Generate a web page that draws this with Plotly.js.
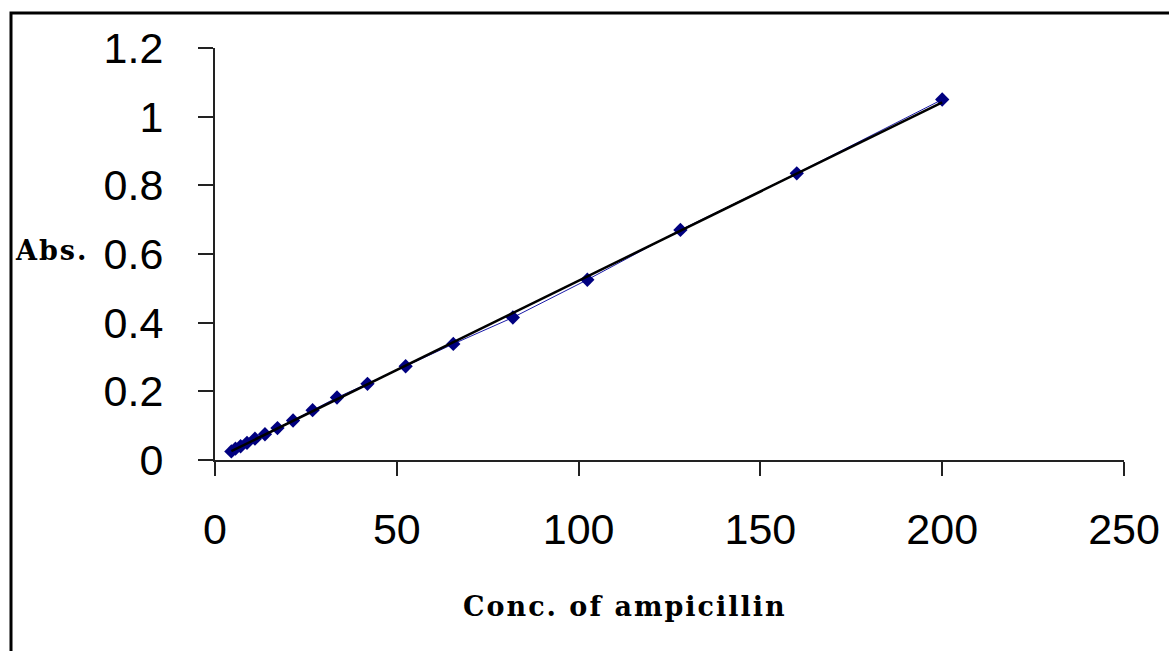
<!DOCTYPE html>
<html>
<head>
<meta charset="utf-8">
<script src="https://cdn.plot.ly/plotly-3.0.1.min.js"></script>
<style>
  html, body { margin: 0; padding: 0; background: #fff; }
  #chart { width: 1169px; height: 651px; }
  /* axis captions are set with slightly open tracking */
  #chart .annotation-text { letter-spacing: 2px; }
</style>
</head>
<body>
<div id="chart"></div>
<script>
// Ampicillin calibration: concentration vs. absorbance
const conc = [200, 160, 128, 102.4, 81.92, 65.54, 52.43, 41.94, 33.55, 26.84,
              21.47, 17.18, 13.74, 10.99, 8.80, 7.04, 5.63, 4.50];
const absorbance = [1.05, 0.835, 0.67, 0.525, 0.415, 0.338, 0.273, 0.222, 0.182, 0.145,
                    0.115, 0.093, 0.075, 0.062, 0.050, 0.040, 0.033, 0.025];
const xTicks = [0, 50, 100, 150, 200, 250];
const yTicks = [0, 0.2, 0.4, 0.6, 0.8, 1, 1.2];
const yTickText = ['0', '0.2', '0.4', '0.6', '0.8', '1', '1.2'];

// Least-squares linear trendline over the measured range
function linearFit(xs, ys) {
  const n = xs.length;
  let sx = 0, sy = 0, sxx = 0, sxy = 0;
  for (let i = 0; i < n; i++) {
    sx += xs[i]; sy += ys[i]; sxx += xs[i] * xs[i]; sxy += xs[i] * ys[i];
  }
  const slope = (n * sxy - sx * sy) / (n * sxx - sx * sx);
  const intercept = (sy - slope * sx) / n;
  return { slope, intercept };
}
const fit = linearFit(conc, absorbance);
const trendX = [Math.min(...conc), Math.max(...conc)];
const trendY = trendX.map(x => fit.slope * x + fit.intercept);

const W = 1169, H = 651;
const margin = { l: 215, r: 45, t: 48, b: 191 };
const plotW = W - margin.l - margin.r;
const plotH = H - margin.t - margin.b;
// convert page pixels to paper coordinates (for the outer frame and titles)
const px = v => (v - margin.l) / plotW;
const py = v => 1 - (v - margin.t) / plotH;

const tickFont = { size: 43, family: '"Liberation Sans", Arial, sans-serif', color: '#000' };
const titleFont = { family: '"DejaVu Serif", "Liberation Serif", serif', size: 27, weight: 'bold', color: '#000' };

const traces = [
  {
    x: conc, y: absorbance,
    type: 'scatter', mode: 'lines+markers',
    line: { color: '#1a1aa8', width: 1 },
    marker: { symbol: 'diamond', size: 11, color: '#000080' },
    hoverinfo: 'x+y', showlegend: false
  },
  {
    x: trendX, y: trendY,
    type: 'scatter', mode: 'lines',
    line: { color: '#000000', width: 2.5 },
    hoverinfo: 'skip', showlegend: false
  }
];

const layout = {
  width: W, height: H,
  margin: margin,
  paper_bgcolor: '#ffffff',
  plot_bgcolor: '#ffffff',
  font: { family: '"Liberation Sans", Arial, sans-serif', color: '#000' },
  xaxis: {
    range: [0, 250],
    tickvals: xTicks,
    ticktext: xTicks.map(String),
    ticks: 'outside', ticklen: 14, tickwidth: 2, tickcolor: '#222',
    showline: true, linecolor: '#222', linewidth: 2,
    showgrid: false, zeroline: false,
    tickfont: tickFont,
    ticklabelstandoff: 16
  },
  yaxis: {
    range: [0, 1.2],
    tickvals: yTicks,
    ticktext: yTickText,
    ticks: 'outside', ticklen: 15, tickwidth: 2, tickcolor: '#222',
    showline: true, linecolor: '#222', linewidth: 2,
    showgrid: false, zeroline: false,
    tickfont: tickFont,
    ticklabelstandoff: 26
  },
  annotations: [
    {
      text: 'Abs.', xref: 'paper', yref: 'paper',
      x: px(17), y: py(250), xanchor: 'left', yanchor: 'middle',
      showarrow: false, font: titleFont
    },
    {
      text: 'Conc. of ampicillin', xref: 'paper', yref: 'paper',
      x: px(625), y: py(606), xanchor: 'center', yanchor: 'middle',
      showarrow: false, font: titleFont
    }
  ],
  shapes: [
    {
      type: 'rect', xref: 'paper', yref: 'paper',
      x0: px(11), x1: px(W + 20), y0: py(H + 20), y1: py(13),
      line: { color: '#000', width: 3 }, fillcolor: 'rgba(0,0,0,0)', layer: 'below'
    }
  ]
};

Plotly.newPlot('chart', traces, layout, { displayModeBar: false, staticPlot: true });
</script>
</body>
</html>
